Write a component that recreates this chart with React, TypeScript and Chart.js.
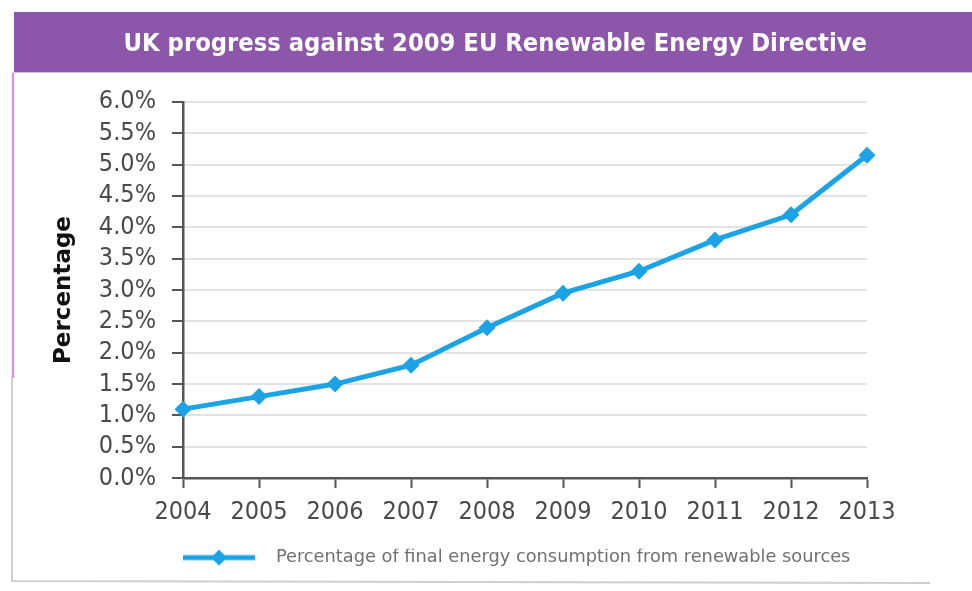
import React, { useEffect, useRef } from "react";
import { Chart, registerables } from "chart.js";

Chart.register(...registerables);

// ---- data ----
const years = ["2004", "2005", "2006", "2007", "2008", "2009", "2010", "2011", "2012", "2013"];
const renewableShare = [1.1, 1.3, 1.5, 1.8, 2.4, 2.95, 3.3, 3.8, 4.2, 5.15];
const yMin = 0;
const yMax = 6;
const yStep = 0.5;
const titleText = "UK progress against 2009 EU Renewable Energy Directive";
const yAxisTitle = "Percentage";
const seriesLabel = "Percentage of final energy consumption from renewable sources";

// ---- styles ----
const BLUE = "#1ba3e6";
const PURPLE = "#8c56ab";
const AXIS = "#555555";
const GRID = "#e2e2e2";
const LABEL = "#4a4a4a";
const CONDENSED = "'DejaVu Sans Condensed', 'Liberation Sans Narrow', 'DejaVu Sans', sans-serif";

function makeLegendImage(): HTMLCanvasElement {
  const c = document.createElement("canvas");
  c.width = 84;
  c.height = 20;
  const ctx = c.getContext("2d")!;
  ctx.strokeStyle = BLUE;
  ctx.lineWidth = 5;
  ctx.beginPath();
  ctx.moveTo(0, 10);
  ctx.lineTo(72, 10);
  ctx.stroke();
  ctx.fillStyle = BLUE;
  ctx.beginPath();
  ctx.moveTo(28, 10);
  ctx.lineTo(36, 2);
  ctx.lineTo(44, 10);
  ctx.lineTo(36, 18);
  ctx.closePath();
  ctx.fill();
  return c;
}

const decorPlugin = {
  id: "decor",
  beforeDraw(chart: any) {
    const ctx = chart.ctx as CanvasRenderingContext2D;
    const tb = chart.titleBlock;
    const W = chart.width;
    ctx.save();
    // purple banner behind title
    const bannerTop = tb.top;
    const bannerH = 17 + 30.4 + 13;
    ctx.fillStyle = PURPLE;
    ctx.fillRect(14, bannerTop, W - 14, bannerH);
    // thin frame lines
    ctx.strokeStyle = "#cf9ad8";
    ctx.lineWidth = 2.5;
    ctx.beginPath();
    ctx.moveTo(13, bannerTop + bannerH);
    ctx.lineTo(13, 378);
    ctx.stroke();
    ctx.strokeStyle = "#cfcfcf";
    ctx.lineWidth = 2;
    ctx.beginPath();
    ctx.moveTo(12, 378);
    ctx.lineTo(12, 581);
    ctx.lineTo(930, 583);
    ctx.stroke();
    ctx.restore();
  },
};

export default function App() {
  const ref = useRef<HTMLCanvasElement | null>(null);

  useEffect(() => {
    if (!ref.current) return;
    const legendImg = makeLegendImage();
    const chart = new Chart(ref.current, {
      type: "line",
      data: {
        labels: years,
        datasets: [
          {
            label: seriesLabel,
            data: renewableShare,
            borderColor: BLUE,
            backgroundColor: BLUE,
            borderWidth: 5,
            pointStyle: "rectRot",
            pointRadius: 8.5,
            pointBackgroundColor: BLUE,
            pointBorderColor: BLUE,
            pointBorderWidth: 0,
            tension: 0,
          },
        ],
      },
      options: {
        responsive: false,
        animation: false,
        layout: { padding: { left: 14, right: 105, top: 12, bottom: 14.5 } },
        plugins: {
          title: {
            display: true,
            text: titleText,
            align: "end",
            color: "#ffffff",
            font: { family: CONDENSED, size: 25.3, weight: "bold", lineHeight: 1.2 },
            padding: { top: 17, bottom: 42.6 },
          },
          legend: {
            display: true,
            position: "bottom",
            align: "start",
            fullSize: false,
            labels: {
              usePointStyle: true,
              pointStyle: legendImg as any,
              pointStyleWidth: 84,
              padding: 0,
              color: "#707070",
              font: { family: "'DejaVu Sans', sans-serif", size: 17.8 },
            },
          },
          tooltip: { enabled: false },
        },
        scales: {
          x: {
            type: "category",
            offset: false,
            afterFit: (scale: any) => {
              scale.height = 70.6;
            },
            grid: {
              drawOnChartArea: false,
              drawTicks: true,
              tickLength: 10,
              tickColor: AXIS,
              tickWidth: 2,
            },
            border: { display: true, color: AXIS, width: 2.5 },
            ticks: {
              color: LABEL,
              padding: 9,
              maxRotation: 0,
              autoSkip: false,
              font: { family: CONDENSED, size: 25 },
            },
          },
          y: {
            min: yMin,
            max: yMax,
            afterFit: (scale: any) => {
              scale.width = 169;
            },
            grid: {
              color: GRID,
              lineWidth: 2,
              drawTicks: true,
              tickLength: 11,
              tickColor: AXIS,
              tickWidth: 2,
            },
            border: { display: true, color: AXIS, width: 2.5 },
            ticks: {
              stepSize: yStep,
              autoSkip: false,
              color: LABEL,
              padding: 16,
              font: { family: CONDENSED, size: 25 },
              callback: (v: any) => Number(v).toFixed(1) + "%",
            },
            title: {
              display: true,
              text: yAxisTitle,
              color: "#111111",
              font: { family: "'DejaVu Sans', sans-serif", size: 23, weight: "bold", lineHeight: 1.2 },
              padding: { top: 36, bottom: 0 },
            },
          },
        },
      },
      plugins: [decorPlugin],
    });
    return () => chart.destroy();
  }, []);

  return (
    <div style={{ position: "fixed", left: 0, top: 0, width: 972, height: 591, background: "#fff" }}>
      <canvas ref={ref} width={972} height={591} style={{ display: "block", width: 972, height: 591 }} />
    </div>
  );
}
